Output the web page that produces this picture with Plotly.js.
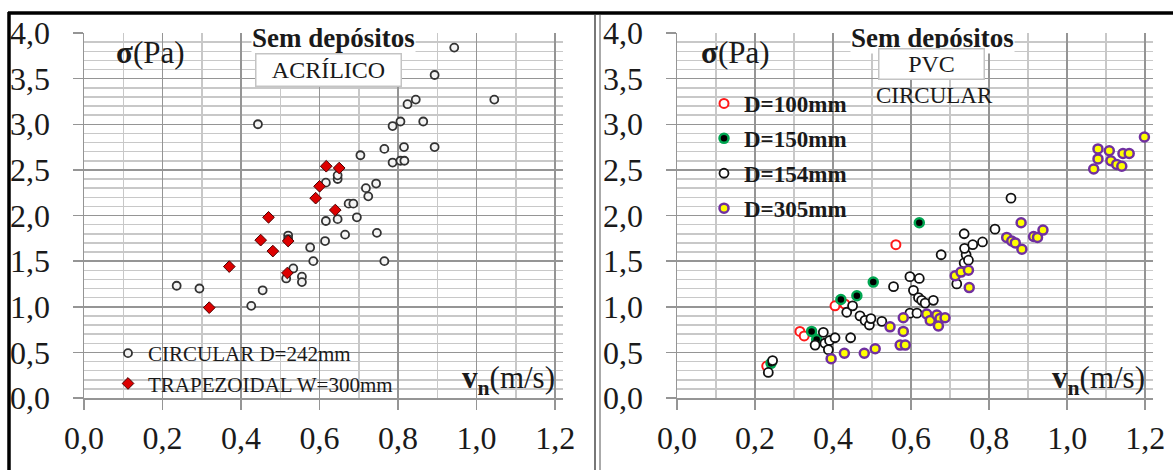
<!DOCTYPE html>
<html>
<head>
<meta charset="utf-8">
<script src="https://cdn.plot.ly/plotly-3.0.1.min.js"></script>
<style>
html,body{margin:0;padding:0;background:#fff;}
#chart{width:1173px;height:470px;}
</style>
</head>
<body>
<div id="chart"></div>
<script>
// ---- Data ----
// Left panel: ACRÍLICO
const circX = [0.236,0.294,0.426,0.443,0.455,0.515,0.520,0.520,0.533,0.555,0.555,0.576,0.584,0.614,0.616,0.616,0.646,0.646,0.646,0.665,0.674,0.686,0.695,0.704,0.718,0.724,0.744,0.746,0.765,0.765,0.786,0.786,0.806,0.806,0.815,0.816,0.824,0.845,0.864,0.893,0.893,0.943,1.045];
const circY = [1.23,1.20,1.01,3.00,1.18,1.31,1.78,1.74,1.42,1.33,1.27,1.65,1.50,1.72,1.94,2.36,1.96,2.40,2.44,1.79,2.13,2.13,1.98,2.66,2.30,2.21,2.35,1.81,1.50,2.73,2.58,2.98,2.60,3.03,2.75,2.60,3.22,3.27,3.03,2.75,3.54,3.84,3.27];
const trapX = [0.319,0.370,0.450,0.470,0.481,0.518,0.520,0.590,0.600,0.617,0.640,0.650];
const trapY = [0.99,1.44,1.73,1.98,1.61,1.37,1.72,2.19,2.32,2.54,2.06,2.52];

// Right panel: PVC CIRCULAR
const d100X = [0.230,0.315,0.326,0.405,0.430,0.561];
const d100Y = [0.35,0.73,0.68,1.01,1.03,1.68];
const d150X = [0.241,0.345,0.358,0.420,0.461,0.503,0.621];
const d150Y = [0.38,0.73,0.64,1.08,1.12,1.27,1.92];
const d154X = [0.234,0.245,0.354,0.375,0.379,0.391,0.388,0.405,0.445,0.435,0.450,0.469,0.482,0.493,0.497,0.525,0.555,0.597,0.621,0.606,0.619,0.627,0.636,0.657,0.597,0.615,0.677,0.717,0.736,0.741,0.747,0.737,0.758,0.783,0.736,0.815,0.856];
const d154Y = [0.28,0.41,0.58,0.72,0.60,0.63,0.53,0.66,0.66,0.94,1.01,0.90,0.85,0.80,0.87,0.84,1.22,1.33,1.31,1.18,1.10,1.07,1.04,1.07,0.93,0.93,1.57,1.25,1.48,1.57,1.51,1.64,1.68,1.71,1.80,1.85,2.19];
const d305X = [0.395,0.429,0.480,0.508,0.546,0.572,0.585,0.580,0.580,0.640,0.649,0.666,0.674,0.687,0.670,0.713,0.728,0.747,0.749,0.845,0.858,0.867,0.884,0.882,0.914,0.924,0.938,1.068,1.079,1.079,1.108,1.112,1.127,1.140,1.143,1.159,1.198];
const d305Y = [0.43,0.49,0.49,0.54,0.78,0.58,0.58,0.73,0.88,0.92,0.85,0.91,0.87,0.88,0.79,1.34,1.38,1.40,1.21,1.76,1.72,1.70,1.63,1.92,1.77,1.76,1.84,2.51,2.62,2.73,2.71,2.60,2.56,2.54,2.68,2.68,2.86];

const leftNames = ['CIRCULAR D=242mm','TRAPEZOIDAL W=300mm'];
const rightNames = ['D=100mm','D=150mm','D=154mm','D=305mm'];
const xTicks = [0,0.2,0.4,0.6,0.8,1.0,1.2];
const yTicks = [0,0.5,1,1.5,2,2.5,3,3.5,4];

const SERIF = 'Liberation Serif, Times New Roman, serif';

const traces = [
  {x:circX, y:circY, xaxis:'x', yaxis:'y', type:'scatter', mode:'markers', name:leftNames[0], legend:'legend',
   marker:{symbol:'circle', size:8, color:'#f4f4f4', line:{color:'#333333', width:1.8}}},
  {x:trapX, y:trapY, xaxis:'x', yaxis:'y', type:'scatter', mode:'markers', name:leftNames[1], legend:'legend',
   marker:{symbol:'diamond', size:9, color:'#dd0000', line:{color:'#4a0000', width:1}}},
  {x:d100X, y:d100Y, xaxis:'x2', yaxis:'y2', type:'scatter', mode:'markers', name:'<b>'+rightNames[0]+'</b>', legend:'legend2', legendgroup:'a',
   marker:{symbol:'circle', size:9, color:'#ffffff', line:{color:'#ff1a1a', width:2}}},
  {x:d150X, y:d150Y, xaxis:'x2', yaxis:'y2', type:'scatter', mode:'markers', name:'<b>'+rightNames[1]+'</b>', legend:'legend2', legendgroup:'b',
   marker:{symbol:'circle', size:9, color:'#000000', line:{color:'#00a651', width:2.5}}},
  {x:d154X, y:d154Y, xaxis:'x2', yaxis:'y2', type:'scatter', mode:'markers', name:'<b>'+rightNames[2]+'</b>', legend:'legend2', legendgroup:'c',
   marker:{symbol:'circle', size:9, color:'#ffffff', line:{color:'#111111', width:1.8}}},
  {x:d305X, y:d305Y, xaxis:'x2', yaxis:'y2', type:'scatter', mode:'markers', name:'<b>'+rightNames[3]+'</b>', legend:'legend2', legendgroup:'d',
   marker:{symbol:'circle', size:9, color:'#ffff00', line:{color:'#7030a0', width:2.5}}}
];

function xax(domain, anchor){
  return {domain:domain, anchor:anchor, range:[0,1.22], tickvals:xTicks, tickformat:'.1f',
    showgrid:true, gridcolor:'#959595', gridwidth:1.5,
    minor:{dtick:0.1, tick0:0, showgrid:true, gridcolor:'#c8c8c8', gridwidth:1.5, ticks:''},
    ticks:'outside', ticklen:10, tickwidth:1.5, tickcolor:'#959595',
    showline:true, linecolor:'#959595', linewidth:1.5, zeroline:false,
    tickfont:{family:SERIF, size:32, color:'#1a1a1a'}, ticklabelstandoff:1, fixedrange:true};
}
function yax(anchor){
  return {domain:[0,1], anchor:anchor, range:[0,4], tickvals:yTicks, tickformat:'.1f',
    showgrid:true, gridcolor:'#959595', gridwidth:1.5,
    minor:{dtick:0.1, tick0:0, showgrid:true, gridcolor:'#c8c8c8', gridwidth:1.5, ticks:''},
    ticks:'outside', ticklen:10, tickwidth:1.5, tickcolor:'#959595',
    showline:true, linecolor:'#959595', linewidth:1.5, zeroline:false,
    tickfont:{family:SERIF, size:32, color:'#1a1a1a'}, ticklabelstandoff:16, fixedrange:true};
}

// pixel helpers for annotation/decoration placement
const L=84, R=20, T=33, B=72, W=1173, H=470;
const PW = W-L-R, PH = H-T-B;
const px = v => (v-L)/PW;
const py = v => (H-B-v)/PH;

function ann(xp, yp, text, size, extra){
  return Object.assign({xref:'paper', yref:'paper', x:px(xp), y:py(yp), xanchor:'center', yanchor:'middle',
    text:text, showarrow:false, font:{family:SERIF, size:size, color:'#1a1a1a'}}, extra||{});
}

const layout = {
  width:W, height:H,
  margin:{l:L, r:R, t:T, b:B, pad:0},
  paper_bgcolor:'#ffffff', plot_bgcolor:'#ffffff',
  separators:', ',
  showlegend:true,
  font:{family:SERIF, color:'#1a1a1a'},
  xaxis:xax([0, px(563)], 'y'),
  yaxis:yax('x'),
  xaxis2:xax([px(677), 1], 'y2'),
  yaxis2:yax('x2'),
  legend:{x:px(108), y:py(333), xanchor:'left', yanchor:'top', bgcolor:'rgba(0,0,0,0)',
    font:{family:SERIF, size:21, color:'#1a1a1a'}, itemwidth:30, tracegroupgap:0},
  legend2:{x:px(704), y:py(82), xanchor:'left', yanchor:'top', bgcolor:'rgba(0,0,0,0)',
    font:{family:SERIF, size:23, color:'#1a1a1a'}, itemwidth:30, tracegroupgap:2},
  annotations:[
    ann(333, 38, '<b>Sem depósitos</b>', 27, {bgcolor:'#ffffff', borderpad:0}),
    ann(328, 70, 'ACRÍLICO', 24, {width:142, height:29, bgcolor:'#ffffff', bordercolor:'#c4c4c4', borderwidth:1.5, borderpad:1}),
    ann(932, 38, '<b>Sem depósitos</b>', 27, {bgcolor:'#ffffff', borderpad:0}),
    ann(931, 64, 'PVC', 24, {width:102, height:27, bgcolor:'#ffffff', bordercolor:'#c4c4c4', borderwidth:1.5, borderpad:1}),
    ann(934, 96, 'CIRCULAR', 23),
    ann(150, 52, '<b>σ</b>(Pa)', 31),
    ann(735, 52, '<b>σ</b>(Pa)', 31),
    ann(557, 380, '<b>v<sub>n</sub></b>(m/s)', 31, {xanchor:'right'}),
    ann(1147, 380, '<b>v<sub>n</sub></b>(m/s)', 31, {xanchor:'right'})
  ],
  shapes:[
    {type:'line', xref:'paper', yref:'paper', x0:px(8), x1:px(1173), y0:py(13), y1:py(13), line:{color:'#000', width:3.5}},
    {type:'line', xref:'paper', yref:'paper', x0:px(9), x1:px(9), y0:py(12), y1:py(470), line:{color:'#000', width:3.5}},
    {type:'line', xref:'paper', yref:'paper', x0:px(595), x1:px(595), y0:py(15), y1:py(470), line:{color:'#777', width:2}},
    {type:'line', xref:'paper', yref:'paper', x0:px(600), x1:px(600), y0:py(15), y1:py(470), line:{color:'#aaa', width:2}}
  ]
};

Plotly.newPlot('chart', traces, layout, {displayModeBar:false, staticPlot:true});
</script>
</body>
</html>
